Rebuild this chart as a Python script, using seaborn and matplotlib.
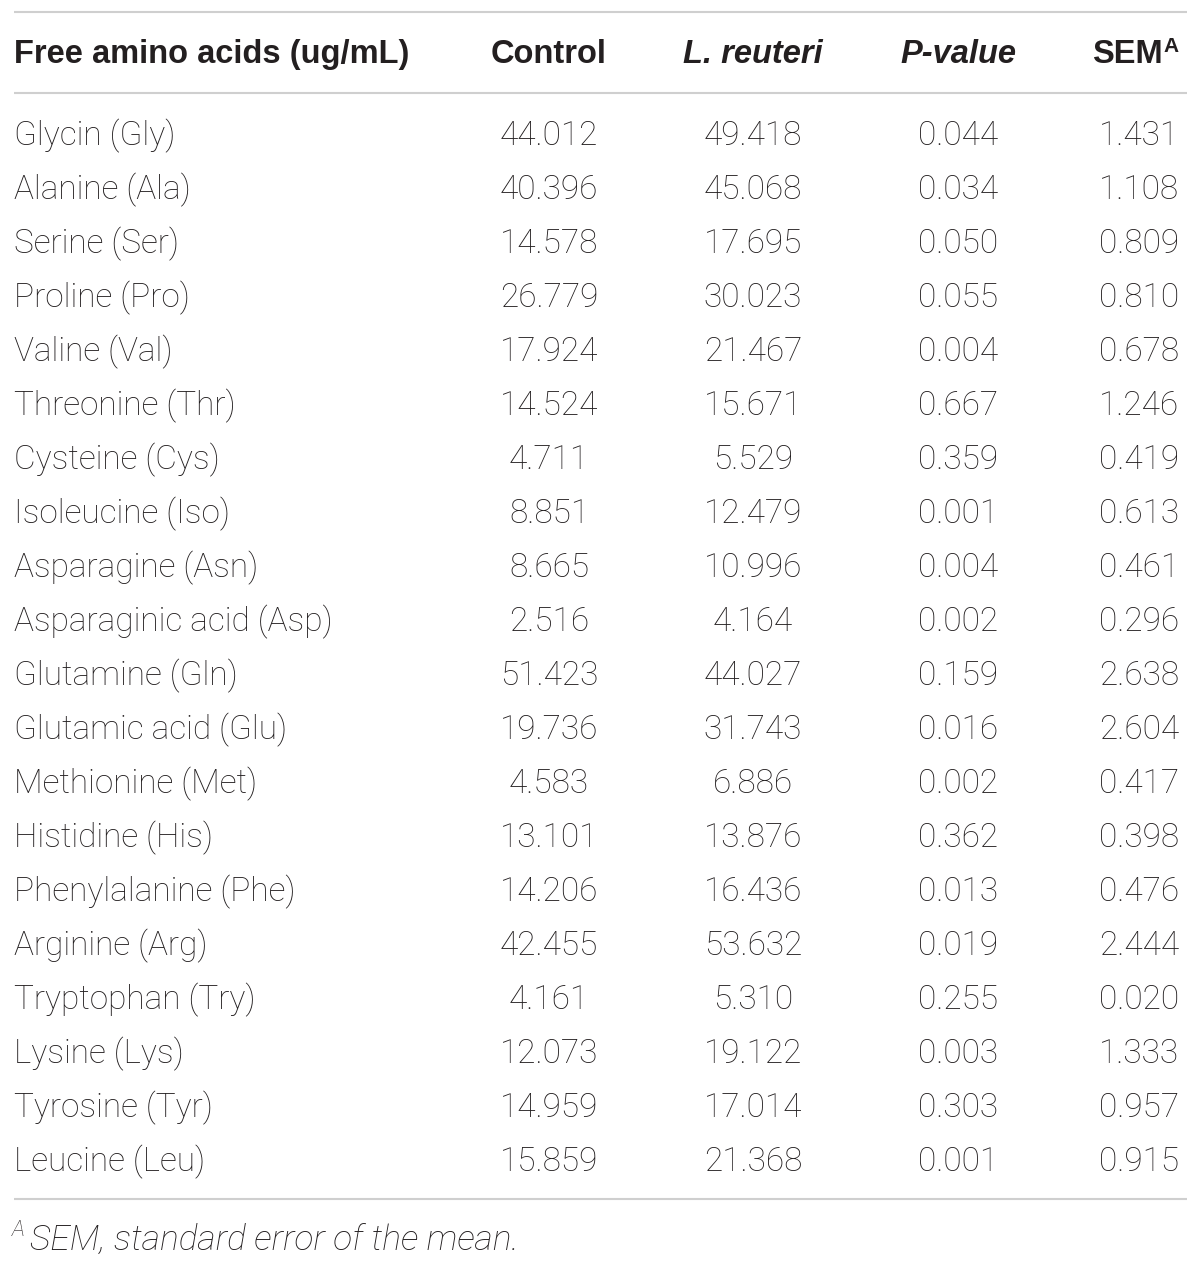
import numpy as np
import pandas as pd
import matplotlib
matplotlib.use("Agg")
import matplotlib.pyplot as plt
import seaborn as sns

# Table data
amino_acids = [
    "Glycin (Gly)", "Alanine (Ala)", "Serine (Ser)", "Proline (Pro)",
    "Valine (Val)", "Threonine (Thr)", "Cysteine (Cys)", "Isoleucine (Iso)",
    "Asparagine (Asn)", "Asparaginic acid (Asp)", "Glutamine (Gln)",
    "Glutamic acid (Glu)", "Methionine (Met)", "Histidine (His)",
    "Phenylalanine (Phe)", "Arginine (Arg)", "Tryptophan (Try)",
    "Lysine (Lys)", "Tyrosine (Tyr)", "Leucine (Leu)",
]
control = [44.012, 40.396, 14.578, 26.779, 17.924, 14.524, 4.711, 8.851,
           8.665, 2.516, 51.423, 19.736, 4.583, 13.101, 14.206, 42.455,
           4.161, 12.073, 14.959, 15.859]
l_reuteri = [49.418, 45.068, 17.695, 30.023, 21.467, 15.671, 5.529, 12.479,
             10.996, 4.164, 44.027, 31.743, 6.886, 13.876, 16.436, 53.632,
             5.310, 19.122, 17.014, 21.368]
p_value = [0.044, 0.034, 0.050, 0.055, 0.004, 0.667, 0.359, 0.001, 0.004,
           0.002, 0.159, 0.016, 0.002, 0.362, 0.013, 0.019, 0.255, 0.003,
           0.303, 0.001]
sem = [1.431, 1.108, 0.809, 0.810, 0.678, 1.246, 0.419, 0.613, 0.461, 0.296,
       2.638, 2.604, 0.417, 0.398, 0.476, 2.444, 0.020, 1.333, 0.957, 0.915]

df = pd.DataFrame({"name": amino_acids, "control": control,
                   "reuteri": l_reuteri, "p": p_value, "sem": sem})

sns.set_theme(style="white")
plt.rcParams["font.family"] = ["Liberation Sans", "DejaVu Sans"]

TXT = "#231f20"
LINE = "#cfcfcf"
FS = 23.5
BODY = dict(family=["Roboto", "Liberation Sans"], fontweight="light",
            fontsize=24, color=TXT)

fig = plt.figure(figsize=(12, 12.66), dpi=100)
ax = fig.add_axes([0, 0, 1, 1])
ax.set_xlim(0, 1200)
ax.set_ylim(1266, 0)
ax.axis("off")

# rules
for y in (12, 93, 1199):
    ax.plot([14, 1187], [y, y], color=LINE, lw=1.5, solid_capstyle="butt")

# header
hy = 63
ax.text(14, hy, "Free amino acids (ug/mL)", ha="left", va="baseline",
        fontsize=FS, fontweight="bold", color=TXT)
ax.text(549, hy, "Control", ha="center", va="baseline",
        fontsize=FS, fontweight="bold", color=TXT)
ax.text(753, hy, "L. reuteri", ha="center", va="baseline",
        fontsize=FS, fontweight="bold", style="italic", color=TXT)
ax.text(958, hy, "P-value", ha="center", va="baseline",
        fontsize=FS, fontweight="bold", style="italic", color=TXT)
ax.text(1163, hy, "SEM", ha="right", va="baseline",
        fontsize=FS, fontweight="bold", color=TXT)
ax.text(1163, 52, "A", ha="left", va="baseline",
        fontsize=15, fontweight="bold", color=TXT)

# body rows
col_x = {"control": 549, "reuteri": 753, "p": 958, "sem": 1139}
y0, dy = 145, 54
for i, row in df.iterrows():
    y = y0 + i * dy
    ax.text(14, y, row["name"], ha="left", va="baseline", **BODY)
    for key, x in col_x.items():
        ax.text(x, y, f"{row[key]:.3f}", ha="center", va="baseline", **BODY)

# footnote
ax.text(12, 1236, "A", ha="left", va="baseline",
        style="italic", **{**BODY, "fontsize": 16})
ax.text(30, 1250, "SEM, standard error of the mean.", ha="left",
        va="baseline", style="italic", **{**BODY, "fontsize": 25.5})

fig.savefig("out.png", dpi=100)
plt.close(fig)
